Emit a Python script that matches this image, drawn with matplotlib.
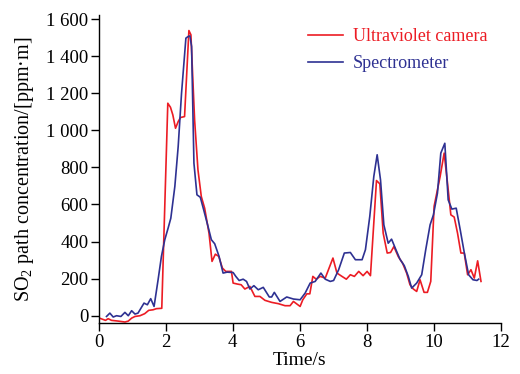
import matplotlib
matplotlib.use("Agg")
import matplotlib.pyplot as plt
from matplotlib.ticker import FuncFormatter

plt.rcParams["font.family"] = ["Liberation Serif", "DejaVu Serif"]
plt.rcParams["mathtext.fontset"] = "custom"
plt.rcParams["mathtext.rm"] = "Liberation Serif"

# ── data: SO2 path concentration vs time ──
uv_time = [0.05, 0.2, 0.28, 0.38, 0.58, 0.78, 0.88, 0.98, 1.08, 1.23, 1.37, 1.49,
           1.62, 1.72, 1.88, 2.06, 2.14, 2.21, 2.29, 2.37, 2.44, 2.56, 2.69, 2.75,
           2.86, 2.96, 3.06, 3.16, 3.29, 3.38, 3.48, 3.58, 3.69, 3.79, 3.96, 4.01,
           4.13, 4.25, 4.36, 4.51, 4.66, 4.81, 4.96, 5.16, 5.36, 5.56, 5.71, 5.81,
           6.01, 6.09, 6.21, 6.30, 6.39, 6.49, 6.61, 6.76, 6.99, 7.11, 7.26, 7.39,
           7.51, 7.63, 7.76, 7.89, 8.01, 8.11, 8.29, 8.39, 8.49, 8.61, 8.71, 8.81,
           8.94, 9.07, 9.19, 9.29, 9.39, 9.49, 9.59, 9.71, 9.81, 9.91, 10.01, 10.19,
           10.31, 10.41, 10.51, 10.61, 10.71, 10.81, 10.91, 11.01, 11.11, 11.21,
           11.31, 11.41]
uv_conc = [-15, -25, -16, -25, -29, -34, -29, -13, -4, 0, 11, 29,
           32, 38, 40, 1146, 1124, 1083, 1011, 1047, 1069, 1074, 1538, 1515,
           1056, 787, 643, 580, 445, 293, 332, 320, 257, 239, 239, 176,
           171, 167, 144, 158, 104, 104, 83, 72, 65, 54, 54, 77,
           50, 86, 118, 118, 212, 197, 212, 203, 311, 230, 212, 197,
           221, 212, 239, 216, 239, 216, 729, 711, 445, 338, 341, 373,
           319, 283, 230, 167, 144, 131, 194, 126, 126, 185, 590, 751,
           877, 715, 544, 532, 445, 338, 338, 221, 248, 203,
           296, 185]

spec_time = [0.23, 0.33, 0.43, 0.53, 0.66, 0.78, 0.88, 0.98, 1.08, 1.17, 1.35, 1.45,
             1.55, 1.65, 1.77, 1.87, 1.97, 2.07, 2.15, 2.27, 2.37, 2.47, 2.60, 2.67,
             2.72, 2.77, 2.84, 2.93, 3.03, 3.13, 3.26, 3.36, 3.46, 3.59, 3.71, 3.83,
             4.01, 4.09, 4.19, 4.31, 4.41, 4.51, 4.63, 4.76, 4.91, 5.09, 5.16, 5.24,
             5.41, 5.61, 5.81, 6.01, 6.16, 6.31, 6.46, 6.63, 6.76, 6.91, 7.01, 7.16,
             7.33, 7.51, 7.66, 7.86, 7.96, 8.09, 8.21, 8.31, 8.41, 8.51, 8.64, 8.74,
             8.87, 8.99, 9.12, 9.24, 9.34, 9.49, 9.64, 9.76, 9.89, 9.99, 10.11, 10.21,
             10.33, 10.43, 10.54, 10.67, 10.79, 10.91, 11.04, 11.17, 11.29, 11.34]
spec_conc = [-4, 14, -7, 0, -4, 18, 0, 27, 9, 14, 68, 59,
             92, 50, 194, 320, 410, 473, 526, 697, 913, 1200, 1497, 1506,
             1509, 1452, 823, 652, 639, 572, 482, 410, 388, 320, 230, 235,
             233, 212, 190, 197, 185, 144, 162, 140, 153, 101, 101, 126,
             77, 101, 90, 86, 122, 176, 185, 230, 197, 185, 190, 248,
             338, 341, 302, 302, 356, 536, 751, 868, 733, 490, 391, 413,
             356, 305, 270, 212, 149, 176, 221, 356, 490, 544, 661, 877,
             930, 625, 575, 580, 463, 341, 221, 194, 190, 197]

red = "#ec1c24"
blue = "#2e3192"

fig = plt.figure(figsize=(5.2, 3.74), dpi=100)
ax = fig.add_axes([0.190, 0.136, 0.773, 0.823])

ax.plot(uv_time, uv_conc, color=red, lw=1.2, label="Ultraviolet camera")
ax.plot(spec_time, spec_conc, color=blue, lw=1.2, label="Spectrometer")

ax.set_xlim(0, 12)
ax.set_ylim(-40, 1620)
ax.set_xticks(range(0, 13, 2))
ax.set_yticks(range(0, 1601, 200))
ax.yaxis.set_major_formatter(FuncFormatter(
    lambda v, p: f"{int(v):,}".replace(",", " ")))

for side in ["top", "right"]:
    ax.spines[side].set_visible(False)
for side in ["left", "bottom"]:
    ax.spines[side].set_linewidth(1.0)
ax.tick_params(direction="out", length=5.5, width=1.0, labelsize=13.5, pad=2)

ax.set_xlabel("Time/s", fontsize=14, labelpad=1)
ax.set_ylabel("SO$_2$ path concentration/[ppm·m]", fontsize=14.5, labelpad=7)

leg = ax.legend(loc="upper left", bbox_to_anchor=(0.592, 0.924),
                bbox_transform=fig.transFigure, frameon=False, fontsize=13,
                handlelength=1.95, handletextpad=0.55, labelspacing=0.55,
                borderpad=0, borderaxespad=0)
for txt, line in zip(leg.get_texts(), leg.get_lines()):
    txt.set_color(line.get_color())

fig.savefig("out.png", dpi=100)
